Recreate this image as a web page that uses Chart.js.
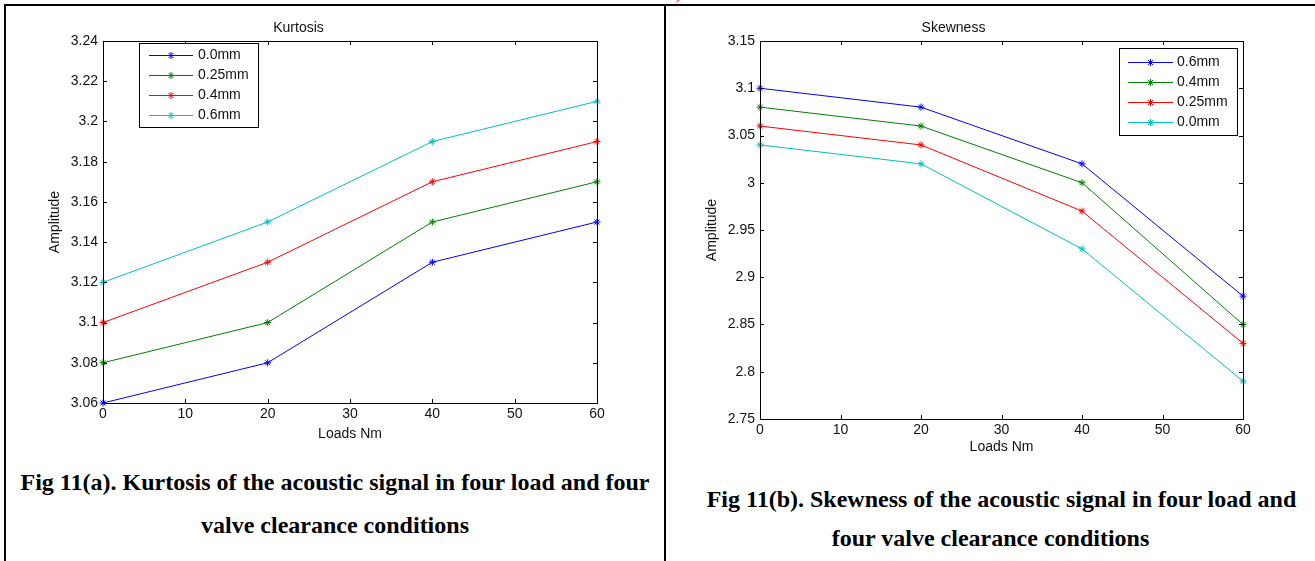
<!DOCTYPE html>
<html>
<head>
<meta charset="utf-8">
<script src="https://cdn.jsdelivr.net/npm/chart.js"></script>
<style>
  html, body { margin: 0; padding: 0; background: #fff; }
  #page { position: relative; width: 1315px; height: 561px; overflow: hidden; }
  .rule { position: absolute; background: #000; }
  canvas { position: absolute; top: 0; }
  .caption {
    position: absolute; text-align: center; color: #000;
    font-family: "Liberation Serif", "Times New Roman", serif;
    font-weight: bold; font-size: 24px; line-height: 28px; white-space: nowrap;
  }
</style>
</head>
<body>
<div id="page">
  <div class="rule" style="left:4px; right:0; top:4px; height:2px;"></div>
  <div class="rule" style="left:4px; width:2px; top:4px; bottom:0;"></div>
  <div class="rule" style="left:664px; width:2px; top:4px; bottom:0;"></div>
  <div style="position:absolute; left:676px; top:0; width:5px; height:1px; background:#e33; transform:rotate(-40deg);"></div>

  <canvas id="kurtChart" width="664" height="460" style="left:0;"></canvas>
  <canvas id="skewChart" width="651" height="470" style="left:664px;"></canvas>

  <div class="caption" style="left:6px; width:658px; top:468px;">Fig 11(a). Kurtosis of the acoustic signal in four load and four</div>
  <div class="caption" style="left:6px; width:658px; top:511px;">valve clearance conditions</div>
  <div class="caption" style="left:677px; width:649px; top:485px;">Fig 11(b). Skewness of the acoustic signal in four load and</div>
  <div class="caption" style="left:666px; width:649px; top:524px;">four valve clearance conditions</div>
</div>

<script>
// loads on the x axis (Nm)
const loads = [0, 20, 40, 60];

// kurtosis, one array per valve clearance
const kurtNames = ['0.0mm', '0.25mm', '0.4mm', '0.6mm'];
const kurt00  = [3.06, 3.08, 3.13, 3.15];
const kurt025 = [3.08, 3.10, 3.15, 3.17];
const kurt04  = [3.10, 3.13, 3.17, 3.19];
const kurt06  = [3.12, 3.15, 3.19, 3.21];

// skewness, legend order as in the figure
const skewNames = ['0.6mm', '0.4mm', '0.25mm', '0.0mm'];
const skew06  = [3.10, 3.08, 3.02, 2.88];
const skew04  = [3.08, 3.06, 3.00, 2.85];
const skew025 = [3.06, 3.04, 2.97, 2.83];
const skew00  = [3.04, 3.02, 2.93, 2.79];

const lineColors = ['#0000ff', '#008000', '#ff0000', '#00bfbf'];

Chart.defaults.font.family = "'Liberation Sans', Arial, sans-serif";
Chart.defaults.font.size = 14;
Chart.defaults.color = '#111';

function drawStar(ctx, x, y, r) {
  const d = r * Math.SQRT1_2;
  ctx.beginPath();
  ctx.moveTo(x - r, y); ctx.lineTo(x + r, y);
  ctx.moveTo(x, y - r); ctx.lineTo(x, y + r);
  ctx.moveTo(x - d, y - d); ctx.lineTo(x + d, y + d);
  ctx.moveTo(x - d, y + d); ctx.lineTo(x + d, y - d);
  ctx.stroke();
}

// matlab style box with inward ticks on all four sides
const boxTicks = {
  id: 'boxTicks',
  afterDatasetsDraw(chart) {
    const { ctx, chartArea: a, scales } = chart;
    const len = 4;
    ctx.save();
    ctx.strokeStyle = '#000';
    ctx.lineWidth = 1;
    ctx.beginPath();
    scales.x.ticks.forEach(t => {
      const px = Math.round(scales.x.getPixelForValue(t.value)) + 0.5;
      ctx.moveTo(px, a.bottom); ctx.lineTo(px, a.bottom - len);
      ctx.moveTo(px, a.top); ctx.lineTo(px, a.top + len);
    });
    scales.y.ticks.forEach(t => {
      const py = Math.round(scales.y.getPixelForValue(t.value)) + 0.5;
      ctx.moveTo(a.left, py); ctx.lineTo(a.left + len, py);
      ctx.moveTo(a.right, py); ctx.lineTo(a.right - len, py);
    });
    ctx.stroke();
    ctx.strokeRect(Math.round(a.left) + 0.5, Math.round(a.top) + 0.5,
      Math.round(a.right - a.left), Math.round(a.bottom - a.top));
    ctx.restore();
  }
};

// legend box drawn inside the axes
const insetLegend = {
  id: 'insetLegend',
  afterDraw(chart, args, o) {
    const { ctx, chartArea: a } = chart;
    const x0 = Math.round(o.alignRight ? a.right - o.dx - o.width : a.left + o.dx);
    const y0 = Math.round(a.top + o.dy);
    ctx.save();
    ctx.fillStyle = '#fff';
    ctx.fillRect(x0, y0, o.width, o.height);
    ctx.strokeStyle = '#000';
    ctx.lineWidth = 1;
    ctx.strokeRect(x0 + 0.5, y0 + 0.5, o.width, o.height);
    ctx.font = "14px 'Liberation Sans', Arial, sans-serif";
    ctx.textBaseline = 'middle';
    chart.data.datasets.forEach((ds, i) => {
      const y = Math.round(y0 + o.firstRow + i * o.rowGap) + 0.5;
      ctx.strokeStyle = ds.borderColor;
      ctx.beginPath();
      ctx.moveTo(x0 + o.lineStart, y); ctx.lineTo(x0 + o.lineEnd, y);
      ctx.stroke();
      drawStar(ctx, x0 + (o.lineStart + o.lineEnd) / 2, y, 3.5);
      ctx.fillStyle = '#111';
      ctx.fillText(ds.label, x0 + o.textX, y);
    });
    ctx.restore();
  }
};

function makeSets(names, series) {
  return series.map((vals, i) => ({
    label: names[i],
    data: loads.map((x, j) => ({ x, y: vals[j] })),
    borderColor: lineColors[i],
    backgroundColor: lineColors[i],
    borderWidth: 1,
    pointStyle: 'star',
    pointRadius: 3.5,
    pointBorderWidth: 1,
    tension: 0,
    clip: false
  }));
}

function makeChart(id, cfg) {
  return new Chart(document.getElementById(id), {
    type: 'line',
    data: { datasets: makeSets(cfg.names, cfg.series) },
    plugins: [boxTicks, insetLegend],
    options: {
      responsive: false,
      animation: false,
      devicePixelRatio: 1,
      layout: { padding: { left: 0, right: cfg.padRight, top: 19.6, bottom: 0 } },
      plugins: {
        legend: { display: false },
        tooltip: { enabled: false },
        title: {
          display: true, text: cfg.title,
          font: { size: 14, weight: 'normal' },
          padding: { top: 0, bottom: 4.6 }
        },
        insetLegend: cfg.legend
      },
      scales: {
        x: {
          type: 'linear', min: 0, max: 60,
          grid: { display: false, drawTicks: false }, border: { display: false },
          ticks: { stepSize: 10, padding: cfg.xTickPad },
          title: { display: true, text: 'Loads Nm', padding: { top: 0, bottom: cfg.xTitlePad } },
          afterFit: s => { s.height = cfg.xHeight; }
        },
        y: {
          min: cfg.yMin, max: cfg.yMax,
          grid: { display: false, drawTicks: false }, border: { display: false },
          ticks: { stepSize: cfg.yStep, padding: 5, callback: v => String(+v.toFixed(2)) },
          title: { display: true, text: 'Amplitude', padding: { top: cfg.yTitlePad, bottom: 0 } },
          afterFit: s => { s.width = cfg.yWidth; }
        }
      }
    }
  });
}

makeChart('kurtChart', {
  title: 'Kurtosis',
  names: kurtNames,
  series: [kurt00, kurt025, kurt04, kurt06],
  yMin: 3.06, yMax: 3.24, yStep: 0.02,
  padRight: 67, yWidth: 103, xHeight: 57,
  xTickPad: 3, xTitlePad: 17.6, yTitlePad: 46.6,
  legend: { alignRight: false, dx: 36, dy: 2, width: 119, height: 84,
            firstRow: 12, rowGap: 20, lineStart: 10, lineEnd: 54, textX: 59 }
});

makeChart('skewChart', {
  title: 'Skewness',
  names: skewNames,
  series: [skew06, skew04, skew025, skew00],
  yMin: 2.75, yMax: 3.15, yStep: 0.05,
  padRight: 72, yWidth: 96, xHeight: 51,
  xTickPad: 2.6, xTitlePad: 14.6, yTitlePad: 39.6,
  legend: { alignRight: true, dx: 6, dy: 7, width: 118, height: 87,
            firstRow: 13.5, rowGap: 20.3, lineStart: 9, lineEnd: 54, textX: 58 }
});
</script>
</body>
</html>
